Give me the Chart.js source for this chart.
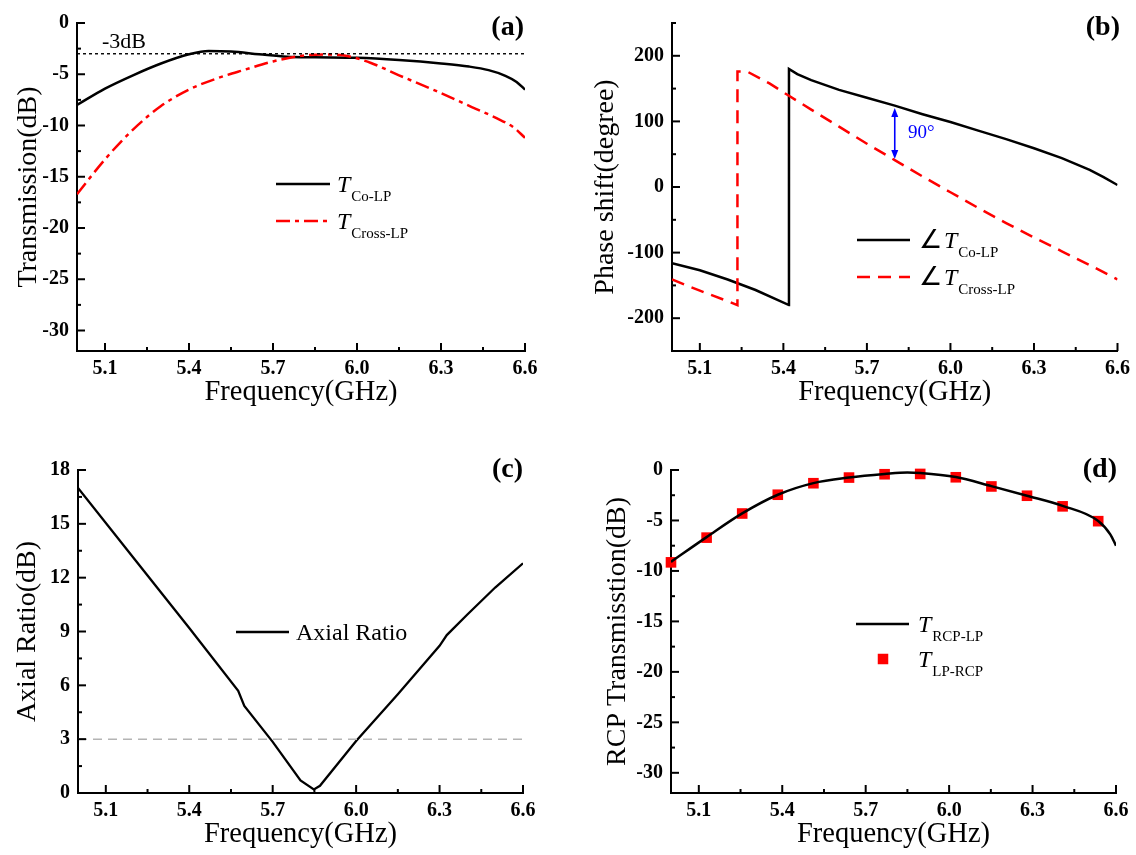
<!DOCTYPE html>
<html><head><meta charset="utf-8">
<script src="https://cdn.jsdelivr.net/npm/chart.js@4.4.1/dist/chart.umd.min.js"></script>
<style>
html,body{margin:0;padding:0;background:#fff;}
#wrap{position:relative;width:1136px;height:855px;background:#fff;}
.panel{position:absolute;}
</style></head><body>
<div id="wrap">
<div class="panel" style="left:0;top:0"><canvas id="ca" width="568" height="427"></canvas></div>
<div class="panel" style="left:568px;top:0"><canvas id="cb" width="568" height="427"></canvas></div>
<div class="panel" style="left:0;top:427px"><canvas id="cc" width="568" height="428"></canvas></div>
<div class="panel" style="left:568px;top:427px"><canvas id="cd" width="568" height="428"></canvas></div>
</div>
<script>
// ---------------- DATA ----------------
const freqTicks = [5.1, 5.4, 5.7, 6.0, 6.3, 6.6];
const freqMinor = [5.25, 5.55, 5.85, 6.15, 6.45];
const xTitle = 'Frequency(GHz)';

// Panel (a) Transmission
const aFreqCo = [5.00,5.10,5.20,5.30,5.40,5.47,5.55,5.65,5.75,5.85,6.00,6.15,6.30,6.40,6.47,6.53,6.57,6.60];
const aCo     = [-8.0,-6.4,-5.1,-3.95,-3.05,-2.72,-2.78,-3.05,-3.3,-3.35,-3.4,-3.62,-3.95,-4.25,-4.6,-5.15,-5.75,-6.5];
const aFreqCross = [5.00,5.10,5.20,5.30,5.40,5.50,5.60,5.70,5.80,5.90,5.97,6.05,6.15,6.28,6.41,6.50,6.56,6.60];
const aCross     = [-16.7,-13.3,-10.4,-8.1,-6.5,-5.4,-4.55,-3.75,-3.2,-3.08,-3.25,-3.9,-5.1,-6.6,-8.2,-9.3,-10.2,-11.2];
const aRefLevel = -3;
const aYTicks = [0,-5,-10,-15,-20,-25,-30];
const aYMinor = [-2.5,-7.5,-12.5,-17.5,-22.5,-27.5];
const aLegend = ['Co-LP','Cross-LP'];

// Panel (b) Phase shift
const bFreqCo = [5.00,5.10,5.20,5.30,5.42,5.4201,5.45,5.50,5.60,5.70,5.80,5.90,6.00,6.10,6.20,6.30,6.40,6.50,6.55,6.60];
const bCo     = [-116,-127,-141,-157,-180,180,172,163,148,136,124,111,99,86,73,59,44,26,15,3];
const bFreqCross = [5.00,5.10,5.20,5.235,5.2351,5.27,5.35,5.42,5.50,5.60,5.70,5.80,5.90,6.00,6.10,6.20,6.30,6.40,6.50,6.60];
const bCross     = [-141,-158,-174,-180,176,176,158,139,118,92,66,41,16,-8,-32,-55,-77,-98,-119,-141];
const bYTicks = [200,100,0,-100,-200];
const bYMinor = [250,150,50,-50,-150];
const bLegend = ['Co-LP','Cross-LP'];
const bArrowFreq = 5.8, bArrowTop = 122, bArrowBottom = 41;

// Panel (c) Axial ratio
const cFreq = [5.00,5.20,5.40,5.576,5.598,5.70,5.80,5.848,5.87,6.00,6.15,6.30,6.326,6.40,6.50,6.60];
const cAR   = [17.0,13.1,9.2,5.7,4.85,2.85,0.7,0.2,0.4,2.9,5.5,8.2,8.8,9.95,11.45,12.8];
const cRefLevel = 3;
const cYTicks = [0,3,6,9,12,15,18];
const cYMinor = [1.5,4.5,7.5,10.5,13.5,16.5];
const cLegend = 'Axial Ratio';

// Panel (d) RCP transmission
const dFreqLine = [5.00,5.128,5.256,5.384,5.512,5.64,5.768,5.85,5.896,6.024,6.152,6.28,6.408,6.536,6.58,6.60];
const dLine     = [-9.1,-6.65,-4.3,-2.45,-1.3,-0.75,-0.4,-0.25,-0.3,-0.7,-1.6,-2.55,-3.55,-5.05,-6.4,-7.5];
const dFreqMark = [5.00,5.128,5.256,5.384,5.512,5.64,5.768,5.896,6.024,6.152,6.28,6.408,6.536];
const dMark     = [-9.15,-6.7,-4.31,-2.45,-1.31,-0.75,-0.42,-0.39,-0.72,-1.63,-2.55,-3.6,-5.07];
const dYTicks = [0,-5,-10,-15,-20,-25,-30];
const dYMinor = [-2.5,-7.5,-12.5,-17.5,-22.5,-27.5];
const dLegend = ['RCP-LP','LP-RCP'];

// ---------------- HELPERS ----------------
const FONT = '"Liberation Serif", "Times New Roman", serif';
Chart.defaults.font.family = FONT;
Chart.defaults.color = '#000';
const zip = (xs, ys) => xs.map((x, i) => ({x: x, y: ys[i]}));
const flat = (xs, v) => [{x: xs[0], y: v}, {x: xs[xs.length - 1], y: v}];

const decor = {
  id: 'decor',
  afterDraw(chart, args, o) {
    const {ctx, chartArea: ca, scales: {x, y}} = chart;
    ctx.save();
    ctx.strokeStyle = '#000'; ctx.lineWidth = 2; ctx.setLineDash([]);
    const seg = (x1, y1, x2, y2) => { ctx.beginPath(); ctx.moveTo(x1, y1); ctx.lineTo(x2, y2); ctx.stroke(); };
    o.xMajor.forEach(v => { const p = x.getPixelForValue(v); seg(p, ca.bottom, p, ca.bottom - 8); });
    o.xMinor.forEach(v => { const p = x.getPixelForValue(v); seg(p, ca.bottom, p, ca.bottom - 4); });
    o.yMajor.forEach(v => { const p = y.getPixelForValue(v); seg(ca.left, p, ca.left + 8, p); });
    o.yMinor.forEach(v => { const p = y.getPixelForValue(v); seg(ca.left, p, ca.left + 4, p); });
    (o.legend || []).forEach(it => {
      const ds = chart.data.datasets[it.ds];
      ctx.save();
      if (it.marker) {
        ctx.fillStyle = ds.pointBackgroundColor;
        const s = it.size;
        ctx.fillRect(it.mx - s / 2, it.y - s / 2, s, s);
      } else {
        ctx.strokeStyle = ds.borderColor; ctx.lineWidth = ds.borderWidth;
        ctx.setLineDash(ds.borderDash || []);
        seg(it.x1, it.y, it.x2, it.y);
      }
      ctx.restore();
      let cx = it.tx;
      ctx.textBaseline = 'alphabetic'; ctx.textAlign = 'left'; ctx.fillStyle = '#000';
      it.parts.forEach(p => {
        ctx.font = p.font;
        ctx.fillText(p.t, cx, it.y + p.dy);
        cx += ctx.measureText(p.t).width + (p.gap || 0);
      });
    });
    (o.texts || []).forEach(t => {
      ctx.font = t.font; ctx.fillStyle = t.color || '#000';
      ctx.textAlign = t.align || 'left'; ctx.textBaseline = 'middle';
      ctx.fillText(t.t, t.x, t.y);
    });
    if (o.arrow) {
      const a = o.arrow;
      const px = x.getPixelForValue(a.xv), p1 = y.getPixelForValue(a.y1), p2 = y.getPixelForValue(a.y2);
      ctx.strokeStyle = a.color; ctx.fillStyle = a.color; ctx.lineWidth = 1.6;
      seg(px, p1 + 6, px, p2 - 6);
      const head = (tipY, dir) => { ctx.beginPath(); ctx.moveTo(px, tipY); ctx.lineTo(px - 3.5, tipY + dir * 9); ctx.lineTo(px + 3.5, tipY + dir * 9); ctx.closePath(); ctx.fill(); };
      head(p1 + 1, 1); head(p2 - 1, -1);
    }
    ctx.restore();
  }
};

function makeChart(id, g, datasets, ax, decorOpts) {
  return new Chart(document.getElementById(id), {
    type: 'scatter',
    data: {datasets: datasets},
    options: {
      responsive: false, animation: false, devicePixelRatio: 1,
      layout: {padding: {left: 0, top: g.T, right: g.W - g.R, bottom: 0}},
      plugins: {legend: {display: false}, tooltip: {enabled: false}, decor: decorOpts},
      elements: {point: {radius: 0}},
      scales: {
        x: {
          type: 'linear', min: 5.0, max: 6.6,
          grid: {display: false, drawTicks: false},
          border: {display: true, width: 2, color: '#000'},
          ticks: {autoSkip: false, maxRotation: 0, padding: 6, color: '#000',
                  font: {family: FONT, size: 20, weight: 'bold'}, callback: v => v.toFixed(1)},
          afterBuildTicks: s => { s.ticks = freqTicks.map(v => ({value: v})); },
          afterFit: s => { s.height = g.xH; },
          title: {display: true, text: xTitle, color: '#000', font: {family: FONT, size: 28.5}, padding: {top: 0, bottom: g.xTB}}
        },
        y: {
          type: 'linear', min: ax.min, max: ax.max,
          grid: {display: false, drawTicks: false},
          border: {display: true, width: 2, color: '#000'},
          ticks: {autoSkip: false, padding: 8, color: '#000',
                  font: {family: FONT, size: 20, weight: 'bold'}, callback: v => String(v)},
          afterBuildTicks: s => { s.ticks = ax.ticks.map(v => ({value: v})); },
          afterFit: s => { s.width = g.L; },
          title: {display: true, text: ax.title, color: '#000', font: {family: FONT, size: 28}, padding: {top: g.yTP, bottom: 0}}
        }
      }
    },
    plugins: [decor]
  });
}

const lineDs = (data, color, width, dash, extra) => Object.assign({
  data: data, showLine: true, borderColor: color, backgroundColor: color, borderWidth: width,
  borderDash: dash, pointRadius: 0, tension: 0, fill: false
}, extra || {});

const legFont = 'italic 24px ' + FONT, subFont = '15px ' + FONT;

// ---------------- PANEL A ----------------
makeChart('ca', {W: 568, L: 77, T: 23, R: 525, xH: 76, xTB: 17, yTP: 12}, [
  lineDs(flat([5.0, 6.6], aRefLevel), '#000', 1.4, [3, 3]),
  lineDs(zip(aFreqCross, aCross), '#ff0000', 2.5, [14, 5, 4, 5], {cubicInterpolationMode: 'monotone', label: aLegend[1]}),
  lineDs(zip(aFreqCo, aCo), '#000', 2.5, [], {cubicInterpolationMode: 'monotone', label: aLegend[0]})
], {min: -32, max: 0, ticks: aYTicks, title: 'Transmission(dB)'}, {
  xMajor: freqTicks, xMinor: freqMinor, yMajor: aYTicks, yMinor: aYMinor,
  legend: [
    {ds: 2, x1: 276, x2: 330, y: 184, tx: 337, parts: [{t: 'T', font: legFont, dy: 8, gap: 1}, {t: aLegend[0], font: subFont, dy: 17}]},
    {ds: 1, x1: 276, x2: 330, y: 221, tx: 337, parts: [{t: 'T', font: legFont, dy: 8, gap: 1}, {t: aLegend[1], font: subFont, dy: 17}]}
  ],
  texts: [
    {t: '(a)', x: 524, y: 28, align: 'right', font: 'bold 28px ' + FONT},
    {t: '-3dB', x: 102, y: 42, font: '22px ' + FONT}
  ]
});

// ---------------- PANEL B ----------------
makeChart('cb', {W: 568, L: 104, T: 23, R: 551, xH: 76, xTB: 17, yTP: 21}, [
  lineDs(zip(bFreqCross, bCross), '#ff0000', 2.5, [13, 8], {label: bLegend[1]}),
  lineDs(zip(bFreqCo, bCo), '#000', 2.5, [], {label: bLegend[0]})
], {min: -250, max: 250, ticks: bYTicks, title: 'Phase shift(degree)'}, {
  xMajor: freqTicks, xMinor: freqMinor, yMajor: bYTicks, yMinor: bYMinor,
  legend: [
    {ds: 1, x1: 289, x2: 342, y: 240, tx: 351, parts: [{t: '∠', font: '26px ' + FONT, dy: 8, gap: 2}, {t: 'T', font: legFont, dy: 8, gap: 1}, {t: bLegend[0], font: subFont, dy: 17}]},
    {ds: 0, x1: 289, x2: 342, y: 277, tx: 351, parts: [{t: '∠', font: '26px ' + FONT, dy: 8, gap: 2}, {t: 'T', font: legFont, dy: 8, gap: 1}, {t: bLegend[1], font: subFont, dy: 17}]}
  ],
  texts: [
    {t: '(b)', x: 552, y: 28, align: 'right', font: 'bold 28px ' + FONT},
    {t: '90°', x: 340, y: 133, color: '#0000ff', font: '19px ' + FONT}
  ],
  arrow: {xv: bArrowFreq, y1: bArrowTop, y2: bArrowBottom, color: '#0000ff'}
});

// ---------------- PANEL C ----------------
makeChart('cc', {W: 568, L: 78, T: 43, R: 523, xH: 62, xTB: 3, yTP: 11}, [
  lineDs(flat([5.0, 6.6], cRefLevel), '#b4b4b4', 1.5, [9, 6]),
  lineDs(zip(cFreq, cAR), '#000', 2.3, [], {label: cLegend})
], {min: 0, max: 18, ticks: cYTicks, title: 'Axial Ratio(dB)'}, {
  xMajor: freqTicks, xMinor: freqMinor, yMajor: cYTicks, yMinor: cYMinor,
  legend: [
    {ds: 1, x1: 236, x2: 289, y: 205, tx: 296, parts: [{t: cLegend, font: '24px ' + FONT, dy: 8}]}
  ],
  texts: [
    {t: '(c)', x: 523, y: 43, align: 'right', font: 'bold 28px ' + FONT}
  ]
});

// ---------------- PANEL D ----------------
makeChart('cd', {W: 568, L: 103, T: 43, R: 548, xH: 62, xTB: 3, yTP: 33}, [
  lineDs(zip(dFreqLine, dLine), '#000', 2.5, [], {cubicInterpolationMode: 'monotone', label: dLegend[0]}),
  {data: zip(dFreqMark, dMark), showLine: false, clip: false, pointStyle: 'rect', pointRadius: 7.5, pointBackgroundColor: '#ff0000',
   pointBorderColor: '#ff0000', pointBorderWidth: 0, backgroundColor: '#ff0000', borderColor: '#ff0000', label: dLegend[1]}
], {min: -32, max: 0, ticks: dYTicks, title: 'RCP Transmisstion(dB)'}, {
  xMajor: freqTicks, xMinor: freqMinor, yMajor: dYTicks, yMinor: dYMinor,
  legend: [
    {ds: 0, x1: 288, x2: 341, y: 197, tx: 350, parts: [{t: 'T', font: legFont, dy: 8, gap: 1}, {t: dLegend[0], font: subFont, dy: 17}]},
    {ds: 1, marker: true, mx: 315, size: 10.5, y: 232, tx: 350, parts: [{t: 'T', font: legFont, dy: 8, gap: 1}, {t: dLegend[1], font: subFont, dy: 17}]}
  ],
  texts: [
    {t: '(d)', x: 549, y: 43, align: 'right', font: 'bold 28px ' + FONT}
  ]
});
</script>
</body></html>
